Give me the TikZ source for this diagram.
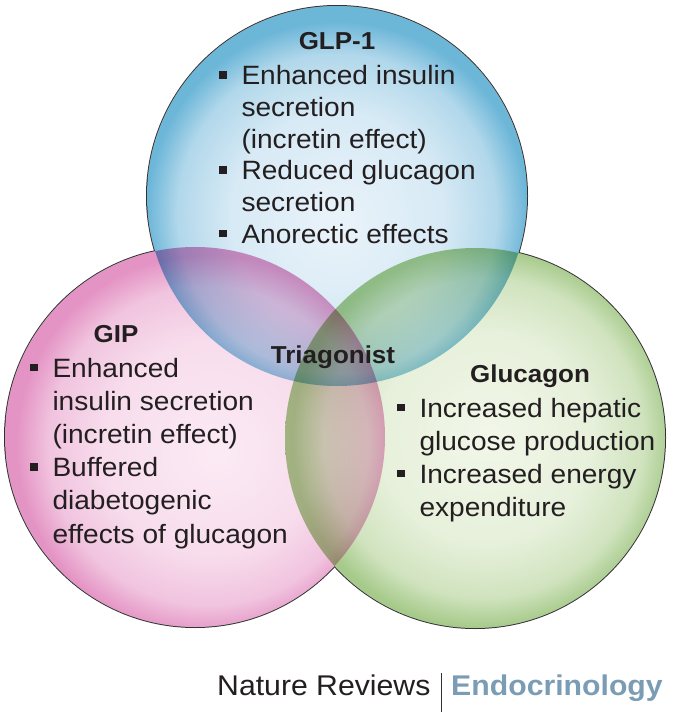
\documentclass[tikz,border=0pt]{standalone}
\usepackage{fontspec}
\setmainfont{Liberation Sans}[FakeStretch=1.06]

\definecolor{ink}{RGB}{35,31,32}
\definecolor{rim}{RGB}{50,50,50}
\definecolor{glpedge}{RGB}{108,182,216}
\definecolor{glpcore}{RGB}{234,243,250}
\definecolor{gipedge}{RGB}{228,148,196}
\definecolor{gipcore}{RGB}{251,234,244}
\definecolor{gcgedge}{RGB}{166,202,138}
\definecolor{gcgcore}{RGB}{242,247,233}
\definecolor{endo}{RGB}{122,156,180}

\pgfdeclareradialshading{glpball}{\pgfpoint{0bp}{-4bp}}{color(0bp)=(glpcore); color(14bp)=(glpcore!85!glpedge); color(21bp)=(glpcore!55!glpedge); color(25bp)=(glpedge); color(50bp)=(glpedge)}
\pgfdeclareradialshading{gipball}{\pgfpoint{3bp}{-2bp}}{color(0bp)=(gipcore); color(14bp)=(gipcore!85!gipedge); color(21bp)=(gipcore!55!gipedge); color(25bp)=(gipedge); color(50bp)=(gipedge)}
\pgfdeclareradialshading{gcgball}{\pgfpoint{2bp}{0bp}}{color(0bp)=(gcgcore); color(14bp)=(gcgcore!85!gcgedge); color(21bp)=(gcgcore!55!gcgedge); color(25bp)=(gcgedge); color(50bp)=(gcgedge)}

\newcommand\sq{\rule[6bp]{7.5bp}{7.5bp}}

\begin{document}
\begin{tikzpicture}[x=1bp, y=1bp, line cap=round, line join=round,
  heading/.style={anchor=base, inner sep=0pt, outer sep=0pt, text=ink,
    font=\fontsize{24.5bp}{29bp}\selectfont\bfseries},
  bullets/.style={anchor=base west, inner sep=0pt, outer sep=0pt, text=ink,
    font=\fontsize{26.5bp}{33.2bp}\selectfont},
  rimline/.style={draw=rim, line width=2bp}]
  \useasboundingbox (0,0) rectangle (675,-717);
  \coordinate (glp) at (337,-196);
  \coordinate (gip) at (195,-437);
  \coordinate (gcg) at (475,-438);
  % outer rim, then white cover, then the tinted discs
  \path[rimline] (glp) circle[radius=190];
  \path[rimline] (gip) circle[radius=190];
  \path[rimline] (gcg) circle[radius=190];
  \fill[white] (glp) circle[radius=190];
  \fill[white] (gip) circle[radius=190];
  \fill[white] (gcg) circle[radius=190];
  \begin{scope}[blend mode=multiply]
    \shade[shading=gipball] (gip) circle[radius=190];
    \shade[shading=gcgball] (gcg) circle[radius=190];
    \shade[shading=glpball] (glp) circle[radius=190];
  \end{scope}
  % GLP-1
  \node[heading] (glphead) at (337,-50) {GLP-1};
  \node[bullets, font=\fontsize{26.5bp}{31.6bp}\selectfont] (glptext) at (219,-85) {\begin{tabular}[t]{@{}l@{\hspace{15bp}}l@{}}
    \sq & Enhanced insulin\\
        & secretion\\
        & (incretin effect)\\
    \sq & Reduced glucagon\\
        & secretion\\
    \sq & Anorectic effects
  \end{tabular}};
  % GIP
  \node[heading] (giphead) at (116,-342) {GIP};
  \node[bullets] (giptext) at (30,-377) {\begin{tabular}[t]{@{}l@{\hspace{15bp}}l@{}}
    \sq & Enhanced\\
        & insulin secretion\\
        & (incretin effect)\\
    \sq & Buffered\\
        & diabetogenic\\
        & effects of glucagon
  \end{tabular}};
  % Glucagon
  \node[heading] (gcghead) at (530,-382) {Glucagon};
  \node[bullets] (gcgtext) at (397,-417) {\begin{tabular}[t]{@{}l@{\hspace{15bp}}l@{}}
    \sq & Increased hepatic\\
        & glucose production\\
    \sq & Increased energy\\
        & expenditure
  \end{tabular}};
  % centre
  \node[heading] (triag) at (333,-363) {Triagonist};
  % journal line
  \node[anchor=base west, inner sep=0pt, text=ink, font=\fontsize{28.5bp}{34bp}\selectfont] (journal) at (217,-695)
    {Nature Reviews\hspace{11bp}{\color{rim}\rule[-17bp]{0.8bp}{39bp}}\hspace{9bp}\textcolor{endo}{\bfseries Endocrinology}};
\end{tikzpicture}
\end{document}
